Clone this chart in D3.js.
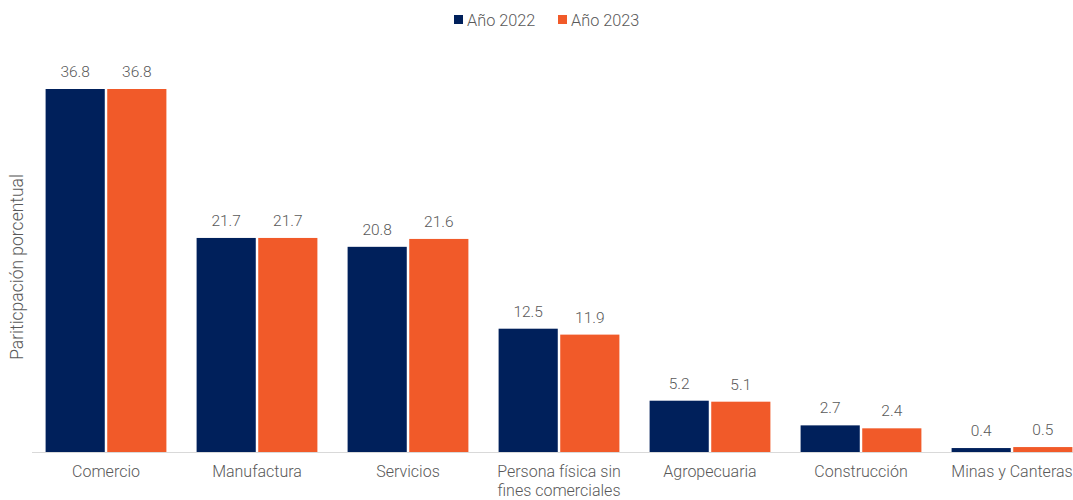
<!DOCTYPE html>
<html><head><meta charset="utf-8">
<script src="https://cdn.jsdelivr.net/npm/d3@7"></script>
<style>body{margin:0;background:#fff;} text{font-family:Roboto,"Liberation Sans",sans-serif;font-weight:300;fill:#595959;}</style>
</head><body><svg id="c" width="1073" height="500"></svg>
<script>
const categories = ["Comercio","Manufactura","Servicios","Persona física sin|fines comerciales","Agropecuaria","Construcción","Minas y Canteras"];
const seriesNames = ["Año 2022","Año 2023"];
const values2022 = [36.8,21.7,20.8,12.5,5.2,2.7,0.4];
const values2023 = [36.8,21.7,21.6,11.9,5.1,2.4,0.5];
const colors = ["#00205B","#F15A29"];
const yLabel = "Pariticpación porcentual";

const svg = d3.select("#c");
const baseY = 452;
const x = d3.scaleBand().domain(categories).range([30.5,1087.5]).paddingInner(0.2).paddingOuter(0.1);
const xs = d3.scaleBand().domain(seriesNames).range([0,x.bandwidth()]).paddingInner(0.04);
const y = d3.scaleLinear().domain([0,36.8]).range([baseY,89]);
const series = [values2022, values2023];

svg.append("line").attr("x1",32).attr("x2",1073).attr("y1",baseY+0.5).attr("y2",baseY+0.5).attr("stroke","#d9d9d9").attr("stroke-width",1);

series.forEach((vals,si)=>{
  const g = svg.append("g");
  g.selectAll("rect").data(categories).join("rect")
    .attr("x",d=>x(d)+xs(seriesNames[si]))
    .attr("width",xs.bandwidth())
    .attr("y",(d,i)=>y(vals[i]))
    .attr("height",(d,i)=>baseY-y(vals[i]))
    .attr("fill",colors[si]);
  g.selectAll("text").data(categories).join("text")
    .attr("x",d=>x(d)+xs(seriesNames[si])+xs.bandwidth()/2)
    .attr("y",(d,i)=>y(vals[i])-12)
    .attr("text-anchor","middle").attr("font-size",15.5)
    .text((d,i)=>vals[i].toFixed(1));
});

const xl = svg.append("g");
categories.forEach(c=>{
  const lines = c.split("|");
  const t = xl.append("text").attr("x",x(c)+x.bandwidth()/2).attr("y",477).attr("text-anchor","middle").attr("font-size",16);
  lines.forEach((l,i)=>t.append("tspan").attr("x",x(c)+x.bandwidth()/2).attr("dy",i?19:0).text(l));
});

svg.append("text").attr("transform","translate(23,267) rotate(-90)").attr("text-anchor","middle").attr("font-size",17.5).text(yLabel);

const leg = svg.append("g");
const legX = [454,558];
seriesNames.forEach((s,i)=>{
  leg.append("rect").attr("x",legX[i]).attr("y",15).attr("width",9).attr("height",9).attr("fill",colors[i]);
  leg.append("text").attr("x",legX[i]+13).attr("y",25.5).attr("font-size",16.3).text(s);
});
</script></body></html>
